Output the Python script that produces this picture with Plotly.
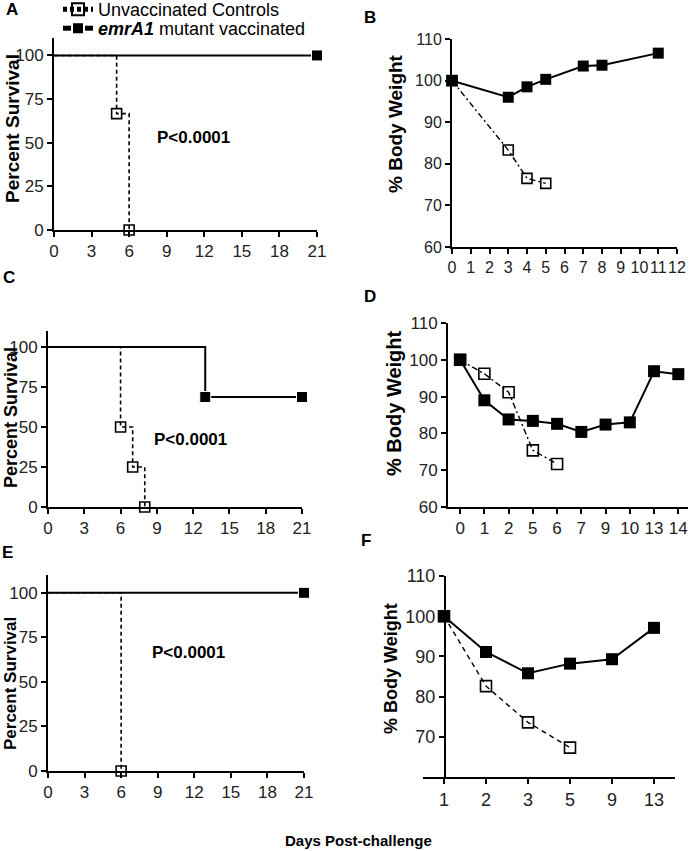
import plotly.graph_objects as go

W, H = 691, 851

# ---------------- data ----------------
# Panel A - survival
A_unvac_days = [0, 5, 6]
A_unvac_surv = [100, 66.7, 0]
A_vac_days = [0, 21]
A_vac_surv = [100, 100]
# Panel B - body weight
B_vac_days = [0, 3, 4, 5, 7, 8, 11]
B_vac_wt = [100, 96, 98.5, 100.3, 103.5, 103.7, 106.6]
B_unvac_days = [0, 3, 4, 5]
B_unvac_wt = [100, 83.3, 76.5, 75.3]
# Panel C - survival
C_unvac_days = [0, 6, 7, 8]
C_unvac_surv = [100, 50, 25, 0]
C_vac_days = [0, 13, 21]
C_vac_surv = [100, 68.75, 68.75]
# Panel D - body weight (categorical days)
D_days = ["0", "1", "2", "5", "6", "7", "9", "10", "13", "14"]
D_vac_wt = [100, 89, 83.8, 83.4, 82.6, 80.4, 82.4, 83, 96.9, 96.1]
D_unvac_days = ["0", "1", "2", "5", "6"]
D_unvac_wt = [100, 96.2, 91.2, 75.4, 71.7]
# Panel E - survival
E_unvac_days = [0, 6]
E_unvac_surv = [100, 0]
E_vac_days = [0, 21]
E_vac_surv = [100, 100]
# Panel F - body weight (categorical days)
F_days = ["1", "2", "3", "5", "9", "13"]
F_vac_wt = [100, 91.1, 85.8, 88.2, 89.3, 97.1]
F_unvac_days = ["1", "2", "3", "5"]
F_unvac_wt = [100, 82.6, 73.6, 67.3]

surv_ticks = [0, 25, 50, 75, 100]
surv_xticks = [0, 3, 6, 9, 12, 15, 18, 21]
B_xticks = list(range(0, 13))
wt_ticks = [60, 70, 80, 90, 100, 110]
F_wt_ticks = [70, 80, 90, 100, 110]

P_text = "P<0.0001"
names = ["Unvaccinated Controls", "<b><i>emrA1</i></b> mutant vaccinated"]

FONT = "Liberation Sans, Arial, sans-serif"


def px_x(x):
    return x / W


def px_y(y):
    return 1 - y / H


def dom_x(a, b):
    return [px_x(a), px_x(b)]


def dom_y(top, bottom):
    return [px_y(bottom), px_y(top)]


fig = go.Figure()

open_mk = dict(symbol="square-open", color="black", opacity=1)
fill_mk = dict(symbol="square", color="black", opacity=1)


def hidden_first(n, size):
    return [0] + [size] * (n - 1)


# ---- survival panels ----
def survival(xa, ya, ud, us, vd, vs, dash, legend):
    fig.add_trace(go.Scatter(
        x=vd, y=vs, xaxis=xa, yaxis=ya, mode="lines+markers", line_shape="hv",
        line=dict(color="black", width=2),
        marker=dict(fill_mk, size=hidden_first(len(vd), 11)),
        name=names[1], showlegend=legend, legend="legend2", cliponaxis=False))
    fig.add_trace(go.Scatter(
        x=ud, y=us, xaxis=xa, yaxis=ya, mode="lines+markers", line_shape="hv",
        line=dict(color="black", width=1.6, dash=dash),
        marker=dict(open_mk, size=hidden_first(len(ud), 10),
                    line=dict(width=[0] + [1.6] * (len(ud) - 1))),
        name=names[0], showlegend=legend, legend="legend", cliponaxis=False))


survival("x", "y", A_unvac_days, A_unvac_surv, A_vac_days, A_vac_surv, "4px,3px", True)
survival("x3", "y3", C_unvac_days, C_unvac_surv, C_vac_days, C_vac_surv, "4px,3px", False)
survival("x5", "y5", E_unvac_days, E_unvac_surv, E_vac_days, E_vac_surv, "4px,3px", False)


# ---- weight panels ----
def weight(xa, ya, ud, uw, vd, vw, dash, msize):
    fig.add_trace(go.Scatter(
        x=ud, y=uw, xaxis=xa, yaxis=ya, mode="lines+markers",
        line=dict(color="black", width=1.4, dash=dash),
        marker=dict(open_mk, size=msize - 1, line=dict(width=1.6)),
        showlegend=False, cliponaxis=False))
    fig.add_trace(go.Scatter(
        x=vd, y=vw, xaxis=xa, yaxis=ya, mode="lines+markers",
        line=dict(color="black", width=2),
        marker=dict(fill_mk, size=msize),
        showlegend=False, cliponaxis=False))


weight("x2", "y2", B_unvac_days, B_unvac_wt, B_vac_days, B_vac_wt, "6px,3px,2px,3px", 11)
weight("x4", "y4", D_unvac_days, D_unvac_wt, D_days, D_vac_wt, "6px,3px,2px,3px", 12)
weight("x6", "y6", F_unvac_days, F_unvac_wt, F_days, F_vac_wt, "5px,4px", 12)

axis_common = dict(showline=True, linecolor="black", linewidth=2, ticks="outside",
                   ticklen=5, tickwidth=2, tickcolor="black", showgrid=False,
                   zeroline=False, color="#222", tickangle=0)

tf17 = dict(family=FONT, size=17, color="#222")
tf16 = dict(family=FONT, size=16, color="#222")
tf18 = dict(family=FONT, size=18, color="#222")

leg_common = dict(xanchor="left", yanchor="top", itemsizing="constant",
                  bgcolor="rgba(0,0,0,0)", font=dict(family=FONT, size=18, color="black"))

fig.update_layout(
    width=W, height=H, margin=dict(l=0, r=0, t=0, b=0, autoexpand=False),
    paper_bgcolor="white", plot_bgcolor="white",
    font=dict(family=FONT, color="black"),
    showlegend=True,
    legend=dict(leg_common, x=px_x(58), y=px_y(-9)),
    legend2=dict(leg_common, x=px_x(58), y=px_y(10)),
    # A
    xaxis=dict(axis_common, domain=dom_x(54, 317), range=[0, 21], tickvals=surv_xticks,
               tickfont=tf17, anchor="y"),
    yaxis=dict(axis_common, domain=dom_y(38, 230), range=[0, 110], tickvals=surv_ticks,
               tickfont=tf17, anchor="x"),
    # B
    xaxis2=dict(axis_common, domain=dom_x(452, 677), range=[0, 12], tickvals=B_xticks,
                tickfont=tf16, anchor="y2"),
    yaxis2=dict(axis_common, domain=dom_y(39, 247), range=[60, 110], tickvals=wt_ticks,
                tickfont=tf16, anchor="x2"),
    # C
    xaxis3=dict(axis_common, domain=dom_x(48, 302), range=[0, 21], tickvals=surv_xticks,
                tickfont=tf17, anchor="y3"),
    yaxis3=dict(axis_common, domain=dom_y(331, 507), range=[0, 110], tickvals=surv_ticks,
                tickfont=tf17, anchor="x3"),
    # D
    xaxis4=dict(axis_common, domain=dom_x(448, 688), type="category",
                categoryorder="array", categoryarray=D_days, range=[-0.5, 9.4],
                tickfont=tf17, anchor="y4"),
    yaxis4=dict(axis_common, domain=dom_y(323, 507), range=[60, 110], tickvals=wt_ticks,
                tickfont=tf17, anchor="x4"),
    # E
    xaxis5=dict(axis_common, domain=dom_x(48, 304), range=[0, 21], tickvals=surv_xticks,
                tickfont=tf17, anchor="y5"),
    yaxis5=dict(axis_common, domain=dom_y(575, 771), range=[0, 110], tickvals=surv_ticks,
                tickfont=tf17, anchor="x5"),
    # F
    xaxis6=dict(axis_common, domain=dom_x(423, 675), type="category",
                categoryorder="array", categoryarray=F_days, range=[-0.5, 5.5],
                tickfont=tf18, anchor="y6"),
    yaxis6=dict(axis_common, domain=dom_y(576, 777), range=[60, 110], tickvals=F_wt_ticks,
                tickfont=tf18, anchor="free", position=px_x(445)),
)

ann = []
# panel letters
for letter, (lx, ly) in zip("ABCDEF", [(12, 9), (370, 17), (9, 278), (370, 296), (8, 552), (366, 540)]):
    ann.append(dict(text=f"<b>{letter}</b>", x=px_x(lx), y=px_y(ly), xref="paper", yref="paper",
                    showarrow=False, font=dict(family=FONT, size=17, color="black"),
                    xanchor="center", yanchor="middle"))
# P values
for xr, yr, px_, py_ in [("x", "y", 11.1, 53), ("x3", "y3", 11.75, 42), ("x5", "y5", 11.5, 66.7)]:
    ann.append(dict(text=f"<b>{P_text}</b>", x=px_, y=py_, xref=xr, yref=yr, showarrow=False,
                    font=dict(family=FONT, size=17, color="black"),
                    xanchor="center", yanchor="middle"))
# y titles
for t, (tx, ty, fs) in [("Percent Survival", (13, 129, 19)), ("% Body Weight", (396, 124, 19)),
                        ("Percent Survival", (11, 418, 18)), ("% Body Weight", (394, 403, 20)),
                        ("Percent Survival", (10, 684, 17)), ("% Body Weight", (391, 669, 18))]:
    ann.append(dict(text=f"<b>{t}</b>", x=px_x(tx), y=px_y(ty), xref="paper", yref="paper",
                    showarrow=False, textangle=-90, font=dict(family=FONT, size=fs, color="black"),
                    xanchor="center", yanchor="middle"))
ann.append(dict(text="<b>Days Post-challenge</b>", x=px_x(358), y=px_y(840), xref="paper", yref="paper",
                showarrow=False, font=dict(family=FONT, size=15, color="black"),
                xanchor="center", yanchor="middle"))
fig.update_layout(annotations=ann)

fig.write_html("out.html", config={"displayModeBar": False},
               post_script="document.body.style.margin='0';")
